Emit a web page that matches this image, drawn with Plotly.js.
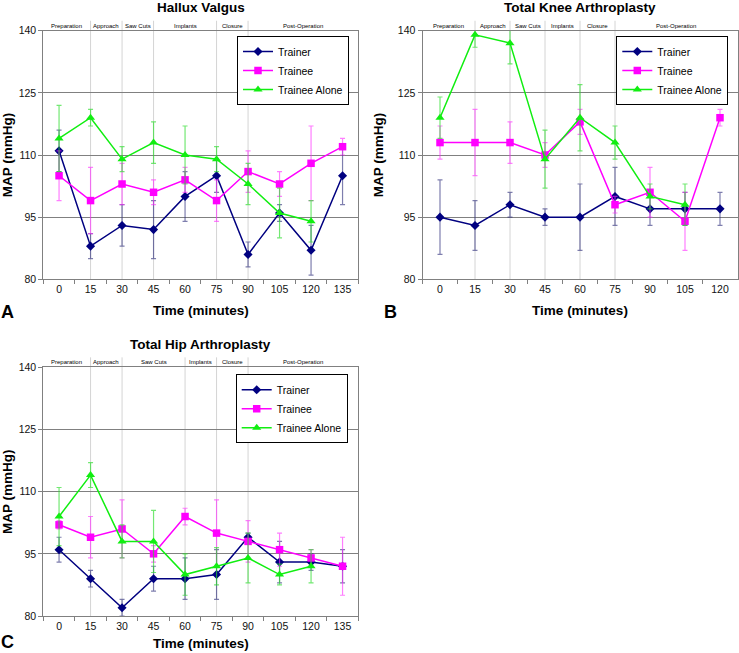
<!DOCTYPE html>
<html><head><meta charset="utf-8">
<script src="https://cdn.plot.ly/plotly-3.0.1.min.js"></script>
<style>html,body{margin:0;padding:0;background:#fff}#chart{width:739px;height:653px}</style>
</head><body><div id="chart"></div><script>
// ---------- DATA ----------
const seriesNames = ['Trainer', 'Trainee', 'Trainee Alone'];
const phaseNames = ['Preparation', 'Approach', 'Saw Cuts', 'Implants', 'Closure', 'Post-Operation'];

// A: Hallux Valgus
const titleA = 'Hallux Valgus';
const catsA = ['0','15','30','45','60','75','90','105','120','135'];
const trainerA = [111, 88, 93, 92, 100, 105, 86, 96, 87, 105];
const trainerErrA = [5, 3, 5, 7, 6, 4, 3, 2, 6, 7];
const traineeA = [105, 99, 103, 101, 104, 99, 106, 103, 108, 112];
const traineeErrA = [6, 8, 5, 3, 3, 5, 5, 3, 9, 2];
const aloneA = [114, 119, 109, 113, 110, 109, 103, 96, 94, null];
const aloneErrA = [8, 2, 3, 5, 7, 3, 5, 6, 5, 0];
const phaseBoundsA = ['15', '30', '45', '75', '90'];

// B: Total Knee Arthroplasty
const titleB = 'Total Knee Arthroplasty';
const catsB = ['0','15','30','45','60','75','90','105','120'];
const trainerB = [95, 93, 98, 95, 95, 100, 97, 97, 97];
const trainerErrB = [9, 6, 3, 2, 8, 7, 4, 4, 4];
const traineeB = [113, 113, 113, 110, 118, 98, 101, 94, 119];
const traineeErrB = [4, 8, 5, 3, 3, 2, 6, 7, 2];
const aloneB = [119, 139, 137, 109, 119, 113, 100, 98, null];
const aloneErrB = [5, 3, 5, 7, 8, 4, 3, 5, 0];
const phaseBoundsB = ['15', '30', '45', '60', '75'];

// C: Total Hip Arthroplasty
const titleC = 'Total Hip Arthroplasty';
const catsC = ['0','15','30','45','60','75','90','105','120','135'];
const trainerC = [96, 89, 82, 89, 89, 90, 99, 93, 93, 92];
const trainerErrC = [3, 2, 2, 3, 5, 6, 1, 5, 2, 4];
const traineeC = [102, 99, 101, 95, 104, 100, 98, 96, 94, 92];
const traineeErrC = [1, 5, 7, 2, 2, 8, 5, 4, 2, 7];
const aloneC = [104, 114, 98, 98, 90, 92, 94, 90, 92, null];
const aloneErrC = [7, 3, 4, 7.5, 5, 4.5, 6, 2.5, 4, 0];
const phaseBoundsC = ['15', '30', '60', '75', '90'];

const yTicks = [80, 95, 110, 125, 140];

// ---------- STYLE / LAYOUT ----------
const W = 739, H = 653;
const FONT = 'Liberation Sans, Arial, sans-serif';
const styles = [
  {color: '#000080', err: 'rgba(40,40,120,0.6)', symbol: 'diamond', size: 7},
  {color: '#ff00ff', err: 'rgba(255,40,255,0.6)', symbol: 'square', size: 7.5},
  {color: '#11ee11', err: 'rgba(40,220,40,0.65)', symbol: 'triangle-up', size: 8}
];

const panels = [
  {letter: 'A', title: titleA, cats: catsA, vals: [trainerA, traineeA, aloneA], errs: [trainerErrA, traineeErrA, aloneErrA], bounds: phaseBoundsA,
   box: [43.3, 358.3, 30.7, 279.3], legendRight: 349, legendTop: 36, standoff: 11, letterPos: [7, 311.5]},
  {letter: 'B', title: titleB, cats: catsB, vals: [trainerB, traineeB, aloneB], errs: [trainerErrB, traineeErrB, aloneErrB], bounds: phaseBoundsB,
   box: [422.5, 737.5, 30.7, 279.3], legendRight: 728.3, legendTop: 36, standoff: 11, letterPos: [391, 311.5]},
  {letter: 'C', title: titleC, cats: catsC, vals: [trainerC, traineeC, aloneC], errs: [trainerErrC, traineeErrC, aloneErrC], bounds: phaseBoundsC,
   box: [43.3, 358.3, 367.3, 616], legendRight: 347.7, legendTop: 374.3, standoff: 7, letterPos: [7, 642]}
];

const data = [];
const layout = {
  width: W, height: H,
  margin: {l: 0, r: 0, t: 0, b: 0},
  paper_bgcolor: '#ffffff', plot_bgcolor: '#ffffff',
  font: {family: FONT, color: '#000'},
  shapes: [], annotations: []
};

panels.forEach((p, i) => {
  const sfx = i === 0 ? '' : String(i + 1);
  const xa = 'x' + sfx, ya = 'y' + sfx;
  const lg = i === 0 ? 'legend' : 'legend' + (i + 1);
  const [x0, x1, yTop, yBot] = p.box;

  p.vals.forEach((v, k) => {
    const st = styles[k];
    data.push({
      type: 'scatter', mode: 'lines+markers',
      name: seriesNames[k],
      x: p.cats, y: v,
      xaxis: xa, yaxis: ya, legend: lg,
      line: {color: st.color, width: 1.5},
      marker: {color: st.color, symbol: st.symbol, size: st.size},
      error_y: {type: 'data', array: p.errs[k], visible: true, color: st.err, thickness: 1.2, width: 2.5},
      connectgaps: false,
      cliponaxis: false
    });
  });

  layout['xaxis' + sfx] = {
    domain: [x0 / W, x1 / W], anchor: ya,
    type: 'category', categoryorder: 'array', categoryarray: p.cats,
    range: [-0.5, p.cats.length - 0.5],
    showgrid: false, zeroline: false,
    showline: true, mirror: true, linecolor: '#808080', linewidth: 1,
    ticks: 'outside', tickson: 'boundaries', ticklen: 4, tickcolor: '#808080',
    tickfont: {family: FONT, size: 10.5, color: '#111'},
    title: {text: 'Time (minutes)', font: {family: FONT, size: 13.5, color: '#000', weight: 'bold'}, standoff: p.standoff},
    fixedrange: true
  };
  layout['yaxis' + sfx] = {
    domain: [1 - yBot / H, 1 - yTop / H], anchor: xa,
    range: [80, 140],
    tickvals: yTicks,
    showgrid: true, gridcolor: '#808080', gridwidth: 1,
    zeroline: false,
    showline: true, mirror: true, linecolor: '#808080', linewidth: 1,
    ticks: 'outside', ticklen: 4, tickcolor: '#808080',
    tickfont: {family: FONT, size: 10.5, color: '#111'},
    title: {text: 'MAP (mmHg)', font: {family: FONT, size: 13.5, color: '#000', weight: 'bold'}, standoff: 11},
    fixedrange: true
  };

  // legend
  layout[lg] = {
    x: p.legendRight / W, y: 1 - p.legendTop / H, xanchor: 'right', yanchor: 'top',
    xref: 'paper', yref: 'paper',
    bgcolor: '#ffffff', bordercolor: '#000', borderwidth: 1,
    font: {family: FONT, size: 10.5, color: '#000'},
    itemwidth: 30, tracegroupgap: 0
  };

  // phase separators & labels
  const idx = p.bounds.map(b => p.cats.indexOf(b));
  idx.forEach(ix => {
    layout.shapes.push({
      type: 'line', layer: 'below', xref: xa, yref: ya + ' domain',
      x0: ix, x1: ix, y0: 0, y1: 1.04,
      line: {color: '#d4d4d4', width: 1}
    });
  });
  const edges = [-0.5].concat(idx).concat([p.cats.length - 0.5]);
  phaseNames.forEach((nm, j) => {
    layout.annotations.push({
      xref: xa, yref: ya + ' domain',
      x: (edges[j] + edges[j + 1]) / 2, y: 1,
      yanchor: 'bottom', yshift: 0, showarrow: false,
      text: nm, font: {family: FONT, size: 6, color: '#000'}
    });
  });

  // panel title
  layout.annotations.push({
    xref: 'paper', yref: 'paper',
    x: ((x0 + x1) / 2) / W, y: 1 - (yTop - 23) / H,
    xanchor: 'center', yanchor: 'middle', showarrow: false,
    text: '<b>' + p.title + '</b>',
    font: {family: FONT, size: 13.5, color: '#000'}
  });

  // panel letter
  layout.annotations.push({
    xref: 'paper', yref: 'paper',
    x: p.letterPos[0] / W, y: 1 - p.letterPos[1] / H,
    xanchor: 'center', yanchor: 'middle', showarrow: false,
    text: '<b>' + p.letter + '</b>',
    font: {family: FONT, size: 18, color: '#000'}
  });
});

Plotly.newPlot('chart', data, layout, {staticPlot: true, displayModeBar: false});
</script></body></html>
